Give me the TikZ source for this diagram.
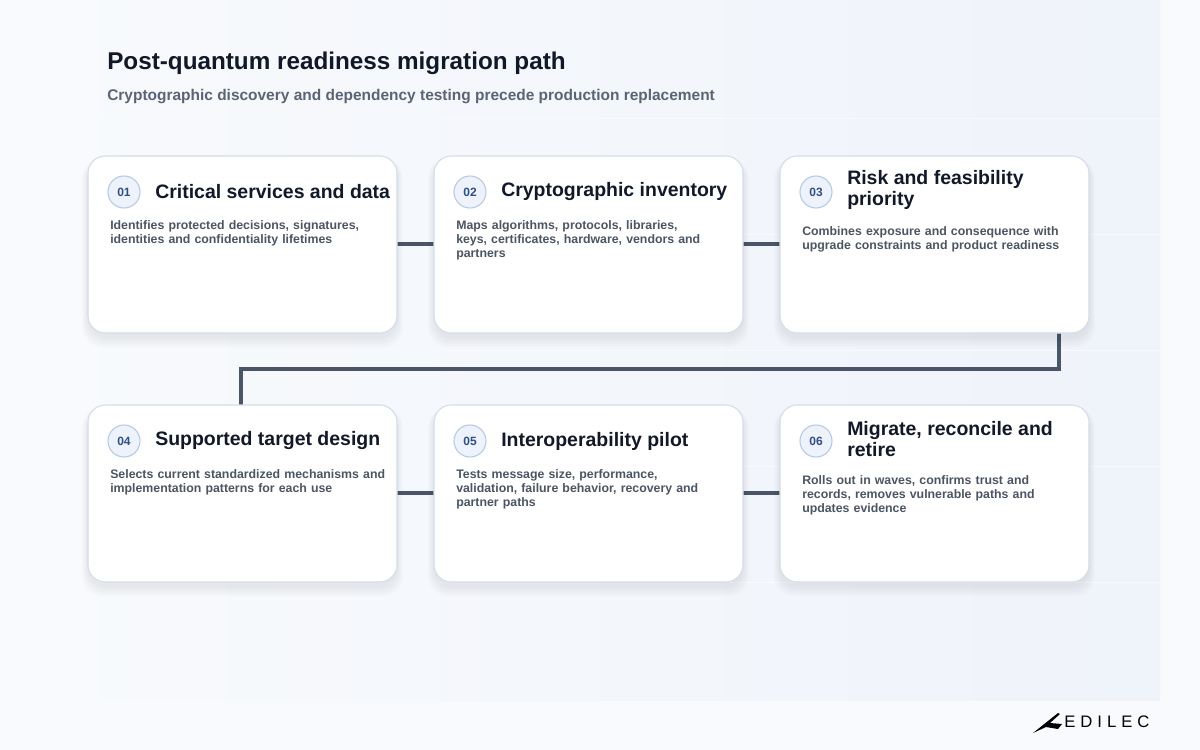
\documentclass[tikz,border=0pt]{standalone}
\usepackage{fontspec}
\setmainfont{Liberation Sans}
\definecolor{bgc}{HTML}{F8FAFD}
\definecolor{panel}{HTML}{EFF3FA}
\definecolor{cardline}{HTML}{D5DDE8}
\definecolor{conn}{HTML}{4A5568}
\definecolor{ttl}{HTML}{111827}
\definecolor{sub}{HTML}{5B6474}
\definecolor{desc}{HTML}{4B5563}
\definecolor{badgef}{HTML}{EEF3FB}
\definecolor{badgel}{HTML}{B7C8E6}
\definecolor{badget}{HTML}{2F4F86}
\begin{document}
\begin{tikzpicture}[x=0.75pt,y=-0.75pt,
 card/.style={draw=cardline,line width=0.8pt,fill=white,rounded corners=13pt},
 badge/.style={circle,draw=badgel,line width=0.8pt,fill=badgef,minimum size=24pt,inner sep=0pt,font=\bfseries\fontsize{9}{10}\selectfont,text=badget},
 ctitle/.style={anchor=west,align=left,font=\bfseries\fontsize{14.6}{16}\selectfont,text=ttl,inner sep=0pt},
 cdesc/.style={anchor=north west,align=left,text width=195pt,font=\bfseries\fontsize{9.25}{10.5}\selectfont,execute at begin node={\hyphenpenalty=10000\exhyphenpenalty=10000},text=desc,inner sep=0pt},
 conn/.style={draw=conn,line width=2.4pt}]
\useasboundingbox (0,0) rectangle (1200,750);
\fill[bgc] (0,0) rectangle (1200,750);
\shade[left color=bgc,right color=panel] (40,0) rectangle (1160,700);
\foreach \y in {118,234,350,466,582} \draw[white!60!panel,line width=0.5pt] (40,\y)--(1160,\y);
\node[anchor=west,inner sep=0pt,font=\bfseries\fontsize{18.2}{20}\selectfont,text=ttl] (T) at (107,63) {Post-quantum readiness migration path};
\node[anchor=west,inner sep=0pt,font=\bfseries\fontsize{11.6}{13}\selectfont,text=sub] (S) at (107,97) {Cryptographic discovery and dependency testing precede production replacement};
% connectors
\coordinate (r1a) at (397,244); \coordinate (r1b) at (434,244);
\coordinate (r1c) at (743,244); \coordinate (r1d) at (780,244);
\coordinate (r2a) at (397,493); \coordinate (r2b) at (434,493);
\coordinate (r2c) at (743,493); \coordinate (r2d) at (780,493);
\draw[conn] (r1a)--(r1b); \draw[conn] (r1c)--(r1d);
\draw[conn] (r2a)--(r2b); \draw[conn] (r2c)--(r2d);
\coordinate (d1) at (1059,333); \coordinate (d2) at (241,405);
\draw[conn] (d1)--(1059,369)--(241,369)--(d2);
% cards with soft shadow
\foreach \x/\y in {88/156,434/156,780/156,88/405,434/405,780/405}{
  \foreach \k in {1,...,6}
    \fill[black,opacity=0.012,rounded corners=15pt] (\x-\k,\y+4-\k*0.3) rectangle ++(309+2*\k,177+2*\k);
  \path[card] (\x,\y) rectangle ++(309,177);
}
\foreach \n/\x/\y/\t in {b1/124/192/01,b2/470/192/02,b3/816/192/03,b4/124/441/04,b5/470/441/05,b6/816/441/06}
  \node[badge] (\n) at (\x,\y) {\t};
\node[ctitle] (t1) at (155,192) {Critical services and data};
\node[ctitle] (t2) at (501,192) {Cryptographic inventory};
\node[ctitle] (t3) at (847,190) {Risk and feasibility\\priority};
\node[ctitle] (t4) at (155,441) {Supported target design};
\node[ctitle] (t5) at (501,441) {Interoperability pilot};
\node[ctitle] (t6) at (847,439) {Migrate, reconcile and\\retire};
\node[cdesc] (e1) at (110,220) {Identifies protected decisions, signatures, identities and confidentiality lifetimes};
\node[cdesc] (e2) at (456,220) {Maps algorithms, protocols, libraries, keys, certificates, hardware, vendors and partners};
\node[cdesc] (e3) at (802,226) {Combines exposure and consequence with upgrade constraints and product readiness};
\node[cdesc,text width=212pt] (e4) at (110,469) {Selects current standardized mechanisms and implementation patterns for each use};
\node[cdesc] (e5) at (456,469) {Tests message size, performance, validation, failure behavior, recovery and partner paths};
\node[cdesc] (e6) at (802,475) {Rolls out in waves, confirms trust and records, removes vulnerable paths and updates evidence};
% logo
\fill[black] (1033,733)--(1058,713)--(1060,714)--(1050,723)--(1062,724)--(1058,729)--(1046,727)--cycle;
\node[anchor=west,inner sep=0pt,font=\fontsize{12.5}{12}\selectfont,text=black] (L) at (1064,722) {\addfontfeatures{LetterSpace=30}EDILEC};
\end{tikzpicture}
\end{document}
